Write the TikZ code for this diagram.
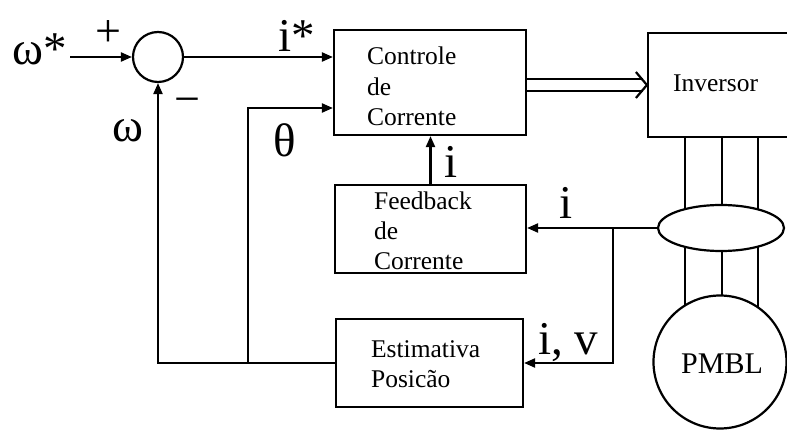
\documentclass[tikz,border=0pt]{standalone}
\usepackage{fontspec}
\setmainfont{Liberation Serif}
\usetikzlibrary{arrows.meta,shapes.geometric}
\begin{document}
\begin{tikzpicture}[x=1pt,y=-1pt,
  line width=2.2pt,
  box/.style={draw, rectangle, inner sep=0pt},
  blk/.style={font=\fontsize{25.5}{30}\selectfont, inner sep=0pt, anchor=base west},
  lbl/.style={font=\fontsize{47}{47}\selectfont, inner sep=0pt, anchor=base west},
  sgn/.style={font=\fontsize{46}{46}\selectfont, inner sep=0pt},
  arr/.style={-{Triangle[length=11pt,width=9pt]}},
]
\clip (0,0) rectangle (787,430);
% blocks
\node[box, circle, minimum size=50pt] (sum) at (158,57) {};
\node[box, minimum width=192pt, minimum height=105pt] (ctrl) at (430,82.5) {};
\node[box, minimum width=191pt, minimum height=88pt] (fb) at (430.5,229) {};
\node[box, minimum width=187pt, minimum height=88pt] (est) at (429.5,363) {};
\node[box, minimum width=150pt, minimum height=104pt] (inv) at (723,85) {};
\node[draw, ellipse, minimum width=126pt, minimum height=46pt, inner sep=0pt] (sens) at (721,228) {};
\node[draw, circle, minimum size=133pt, inner sep=0pt] (mot) at (720,362) {};
% block texts
\node[blk] (c1) at (366,65) {Controle};
\node[blk] (c2) at (366,96) {de};
\node[blk] (c3) at (366,126) {Corrente};
\node[blk] (f1) at (373,210) {Feedback};
\node[blk] (f2) at (373,240) {de};
\node[blk] (f3) at (373,270) {Corrente};
\node[blk] (e1) at (370,357) {Estimativa};
\node[blk] (e2) at (370,387) {Posicão};
\node[blk] (invt) at (672,92) {Inversor};
\node[font=\fontsize{30}{30}\selectfont, inner sep=0pt, anchor=base] (pm) at (722,373) {PMBL};
% labels
\node[lbl] (wref) at (11,65) {ω*};
\node[lbl] (istar) at (277,52) {i*};
\node[lbl] (theta) at (272,157) {θ};
\node[lbl] (wfb) at (111,142) {ω};
\node[lbl] (i1) at (443,178) {i};
\node[lbl] (i2) at (558,219) {i};
\node[lbl] (iv) at (537,354) {i, v};
\node[sgn] (plus) at (108,34) {+};
\node[sgn] (minus) at (187,106) {−};
% connectors
\coordinate (ws) at (70,57);
\draw[arr] (ws) -- (sum.west);
\draw[arr] (sum.east) -- (sum.east -| ctrl.west);
\coordinate (tj) at (248,363);
\coordinate (tc) at (248,108);
\draw[arr] (est.west) -- (est.west -| sum.south) -- (sum.south);
\draw[arr] (tj) -- (tc) -- (tc -| ctrl.west);
\draw[arr] (fb.north) -- (fb.north |- ctrl.south);
\draw[arr] (sens.west) -- (sens.west -| fb.east);
\coordinate (jr) at (613,228);
\draw[arr] (jr) -- (jr |- est.east) -- (est.east);
% double arrow
\coordinate (d1) at (0,79);
\coordinate (d2) at (0,91);
\coordinate (dt) at (0,85);
\draw (ctrl.east |- d1) -- ([xshift=-4pt]inv.west |- d1);
\draw (ctrl.east |- d2) -- ([xshift=-4pt]inv.west |- d2);
\draw[line join=miter] ([xshift=-11pt]inv.west |- 0,72) -- (inv.west |- dt) -- ([xshift=-11pt]inv.west |- 0,98);
% phase lines
\foreach \x/\a/\b/\c in {685/209/247/305, 722/205/251/295, 758/209.4/246.6/306.8}{
  \draw (\x,137) -- (\x,\a);
  \draw (\x,\b) -- (\x,\c);
}
\end{tikzpicture}
\end{document}
